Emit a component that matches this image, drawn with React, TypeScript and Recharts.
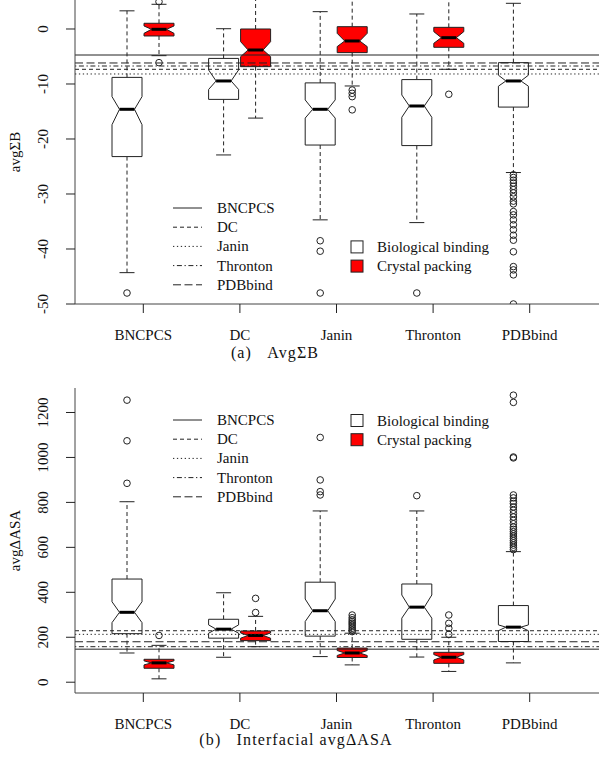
import React from 'react';
import { ComposedChart, Bar, XAxis, YAxis, ReferenceLine, Legend } from 'recharts';

const FONT = '"Liberation Serif", "Times New Roman", serif';
const INK = '#222';

const categories = ['BNCPCS', 'DC', 'Janin', 'Thronton', 'PDBbind'];
const groups = ['Biological binding', 'Crystal packing'];
const methods = ['BNCPCS', 'DC', 'Janin', 'Thronton', 'PDBbind'];

// box stats: [lower whisker, Q1, notch low, median, notch high, Q3, upper whisker]
const sumBBio = [
  [-44.3, -23.2, -17.4, -14.6, -12.3, -8.8, 3.3],
  [-22.9, -12.8, -11.0, -9.45, -7.45, -5.35, 0.05],
  [-34.7, -21.1, -16.2, -14.6, -12.9, -9.8, 3.15],
  [-35.2, -21.2, -16.05, -14.0, -12.0, -9.2, 2.73],
  [-26.1, -14.2, -10.4, -9.45, -8.4, -6.12, 4.67],
];
const sumBBioOutliers = [
  [-48.0],
  [],
  [-38.5, -40.4, -48.0],
  [-48.0],
  [-26.5, -27.0, -27.5, -28.0, -28.6, -29.2, -29.8, -30.5, -31.3, -31.8, -33.2, -33.8, -34.7, -35.6, -36.5, -37.5, -38.4, -40.5, -43.2, -43.8, -44.7, -50.0],
];
const sumBCrystal = [
  [-4.85, -1.27, -0.79, -0.06, 0.55, 1.04, 4.49],
  [-16.2, -6.85, -5.03, -3.82, -2.3, 0.0, 7.0],
  [-10.36, -4.3, -3.2, -2.18, -0.79, 0.42, 7.0],
  [-7.33, -3.33, -2.6, -1.58, -0.48, 0.3, 6.5],
  null,
];
const sumBCrystalOutliers = [
  [-6.12, 4.96],
  [],
  [-11.1, -11.7, -12.3, -14.7],
  [-11.87],
  [],
];

const asaBio = [
  [130, 216, 265, 311, 358, 459, 803],
  [111, 196, 218, 236, 255, 280, 398],
  [114, 205, 270, 318, 370, 445, 762],
  [112, 191, 285, 334, 388, 437, 762],
  [86, 181, 229, 245, 255, 341, 581],
];
const asaBioOutliers = [
  [885, 1074, 1255],
  [],
  [833, 848, 900, 1089],
  [830],
  [590, 600, 610, 620, 630, 640, 650, 660, 670, 680, 690, 705, 720, 735, 750, 765, 780, 795, 805, 820, 833, 998, 1002, 1245, 1277],
];
const asaCrystal = [
  [15, 62, 77, 86, 95, 102, 164],
  [158, 185, 196, 208, 219, 228, 293],
  [77, 110, 119, 130, 141, 152, 218],
  [48, 84, 99, 111, 123, 133, 200],
  null,
];
const asaCrystalOutliers = [
  [208],
  [310, 373],
  [225, 233, 240, 248, 256, 263, 270, 278, 287, 299],
  [213, 240, 262, 299],
  [],
];

// threshold lines per method
const refSumB = [-4.73, -7.33, -8.18, -6.73, -6.18];
const refAsa = [147, 229, 213, 158, 180];

const sumBTicks = [-50, -40, -30, -20, -10, 0];
const asaTicks = [0, 200, 400, 600, 800, 1000, 1200];

const dashes = ['', '4 3', '1.3 2.6', '1.3 2.6 5 2.6', '8 3.5'];
const groupFills = ['#ffffff', '#ff0000'];

function buildRows(bio: any[], bioOut: any[], crys: any[], crysOut: any[]) {
  return categories.map((cat, i) => ({
    cat,
    bio: bio[i],
    bioOut: bioOut[i],
    crys: crys[i],
    crysOut: crysOut[i],
    bioRange: bio[i] ? [bio[i][1], bio[i][5]] : null,
    crysRange: crys[i] ? [crys[i][1], crys[i][5]] : null,
  }));
}

const BoxShape = (props: any) => {
  const { x, y, width, height, payload, kind, fill } = props;
  const s = payload && payload[kind];
  if (!s || width == null || y == null) return null;
  const outs: number[] = payload[kind + 'Out'] || [];
  const [lw, q1, nlo, med, nhi, q3, uw] = s;
  const top = Math.min(y, y + height);
  const bot = Math.max(y, y + height);
  const span = bot - top;
  const py = (v: number) => top + ((q3 - v) / (q3 - q1)) * span;
  const cx = x + width / 2;
  const h = width / 2;
  const nf = 0.5;
  const cap = h * 0.5;
  const pts = [
    [cx - h, py(q1)], [cx - h, py(nlo)], [cx - h * nf, py(med)], [cx - h, py(nhi)], [cx - h, py(q3)],
    [cx + h, py(q3)], [cx + h, py(nhi)], [cx + h * nf, py(med)], [cx + h, py(nlo)], [cx + h, py(q1)],
  ].map((p) => p.join(',')).join(' ');
  return (
    <g>
      <line x1={cx} x2={cx} y1={py(q3)} y2={py(uw)} stroke={INK} strokeDasharray="4 3" />
      <line x1={cx} x2={cx} y1={py(q1)} y2={py(lw)} stroke={INK} strokeDasharray="4 3" />
      <line x1={cx - cap} x2={cx + cap} y1={py(uw)} y2={py(uw)} stroke={INK} />
      <line x1={cx - cap} x2={cx + cap} y1={py(lw)} y2={py(lw)} stroke={INK} />
      <polygon points={pts} fill={fill} stroke={INK} strokeWidth={1} />
      <line x1={cx - h * nf} x2={cx + h * nf} y1={py(med)} y2={py(med)} stroke="#000" strokeWidth={3} />
      {outs.map((o, i) => (
        <circle key={i} cx={cx} cy={py(o)} r={3.3} fill="none" stroke={INK} strokeWidth={1} />
      ))}
    </g>
  );
};

const XTick = (props: any) => {
  const { x, y, payload } = props;
  return (
    <text x={x} y={y + 20} textAnchor="middle" dominantBaseline="central" fontFamily={FONT} fontSize={15} fill="#111">
      {payload.value}
    </text>
  );
};

const YTick = (props: any) => {
  const { x, y, payload } = props;
  const cx = x - 21;
  return (
    <text x={cx} y={y} transform={`rotate(-90 ${cx} ${y})`} textAnchor="middle" dominantBaseline="central" fontFamily={FONT} fontSize={15} fill="#111">
      {payload.value}
    </text>
  );
};

const AxisTitle = (props: any) => {
  const vb = props.viewBox || { x: 0, y: 0, width: 75, height: 300 };
  const cx = vb.x + 15;
  const cy = vb.y + vb.height / 2;
  return (
    <text x={cx} y={cy} transform={`rotate(-90 ${cx} ${cy})`} textAnchor="middle" dominantBaseline="central" fontFamily={FONT} fontSize={15} fill="#111">
      {props.title}
    </text>
  );
};

const LegendSvg = ({ fillRow }: { fillRow: number }) => {
  const rowY = (i: number) => 10 + i * 19.2;
  return (
    <svg width={360} height={100} style={{ display: 'block', overflow: 'visible' }}>
      {methods.map((m, i) => (
        <g key={m}>
          <line x1={13} x2={42} y1={rowY(i)} y2={rowY(i)} stroke={INK} strokeDasharray={dashes[i] || undefined} />
          <text x={57} y={rowY(i)} dominantBaseline="central" fontFamily={FONT} fontSize={15} fill="#111">{m}</text>
        </g>
      ))}
      {groups.map((g, i) => (
        <g key={g}>
          <rect x={191} y={rowY(fillRow + i) - 5.5} width={12} height={12} fill={groupFills[i]} stroke={INK} />
          <text x={217} y={rowY(fillRow + i) + 0.5} dominantBaseline="central" fontFamily={FONT} fontSize={15} fill="#111">{g}</text>
        </g>
      ))}
    </svg>
  );
};

type PanelProps = {
  rows: any[];
  domain: [number, number];
  ticks: number[];
  refs: number[];
  title: string;
  height: number;
  marginTop: number;
  xAxisHeight: number;
  legendTop: number;
  fillRow: number;
  topBorder: boolean;
};

const Panel = (p: PanelProps) => (
  <ComposedChart
    width={600}
    height={p.height}
    data={p.rows}
    margin={{ top: p.marginTop, right: 1, bottom: 0, left: 0 }}
    barGap={2}
  >
    <XAxis
      dataKey="cat"
      type="category"
      padding={{ left: 20, right: 21 }}
      height={p.xAxisHeight}
      tickSize={9}
      tickMargin={2}
      interval={0}
      tick={<XTick />}
      tickLine={{ stroke: INK }}
      axisLine={{ stroke: '#444' }}
    />
    {p.topBorder && (
      <XAxis xAxisId="top" orientation="top" dataKey="cat" height={0} tick={false} tickLine={false} axisLine={{ stroke: '#444' }} />
    )}
    <YAxis
      type="number"
      domain={p.domain}
      ticks={p.ticks}
      allowDataOverflow
      width={75}
      tickSize={9}
      tickMargin={2}
      interval={0}
      tick={<YTick />}
      tickLine={{ stroke: INK }}
      axisLine={{ stroke: '#444' }}
      label={<AxisTitle title={p.title} />}
    />
    <YAxis yAxisId="right" orientation="right" type="number" domain={p.domain} width={0} tick={false} tickLine={false} axisLine={{ stroke: '#444' }} />
    <Bar dataKey="bioRange" barSize={30} isAnimationActive={false} shape={(sp: any) => <BoxShape {...sp} kind="bio" fill={groupFills[0]} />} />
    <Bar dataKey="crysRange" barSize={30} isAnimationActive={false} shape={(sp: any) => <BoxShape {...sp} kind="crys" fill={groupFills[1]} />} />
    {p.refs.map((v, i) => (
      <ReferenceLine key={methods[i]} y={v} stroke={INK} strokeWidth={1} strokeDasharray={dashes[i] || undefined} />
    ))}
    <Legend
      layout="vertical"
      align="center"
      verticalAlign="middle"
      wrapperStyle={{ left: 160, top: p.legendTop, width: 360, height: 100 }}
      content={() => <LegendSvg fillRow={p.fillRow} />}
    />
  </ComposedChart>
);

const captionStyle: React.CSSProperties = {
  position: 'absolute',
  fontFamily: FONT,
  fontSize: 16,
  color: '#111',
  whiteSpace: 'nowrap',
  letterSpacing: 1.1,
  transform: 'translate(-50%, -50%)',
};

export default function App() {
  const topRows = buildRows(sumBBio, sumBBioOutliers, sumBCrystal, sumBCrystalOutliers);
  const botRows = buildRows(asaBio, asaBioOutliers, asaCrystal, asaCrystalOutliers);
  return (
    <div style={{ position: 'relative', width: 600, height: 758, background: '#fff', overflow: 'hidden' }}>
      <style>{'body{margin:0;background:#fff}'}</style>
      <div style={{ position: 'absolute', left: 0, top: 0 }}>
        <Panel
          rows={topRows}
          domain={[-50, 5.27]}
          ticks={sumBTicks}
          refs={refSumB}
          title="avgΣB"
          height={380}
          marginTop={0}
          xAxisHeight={76}
          legendTop={198}
          fillRow={2}
          topBorder={false}
        />
      </div>
      <div style={{ position: 'absolute', left: 0, top: 380 }}>
        <Panel
          rows={botRows}
          domain={[-48, 1309]}
          ticks={asaTicks}
          refs={refAsa}
          title="avgΔASA"
          height={378}
          marginTop={8}
          xAxisHeight={65}
          legendTop={30}
          fillRow={0}
          topBorder={true}
        />
      </div>
      <div style={{ ...captionStyle, left: 275, top: 353 }}>(a)&nbsp;&nbsp;&nbsp;AvgΣB</div>
      <div style={{ ...captionStyle, left: 296, top: 740 }}>(b)&nbsp;&nbsp;&nbsp;Interfacial avgΔASA</div>
    </div>
  );
}
